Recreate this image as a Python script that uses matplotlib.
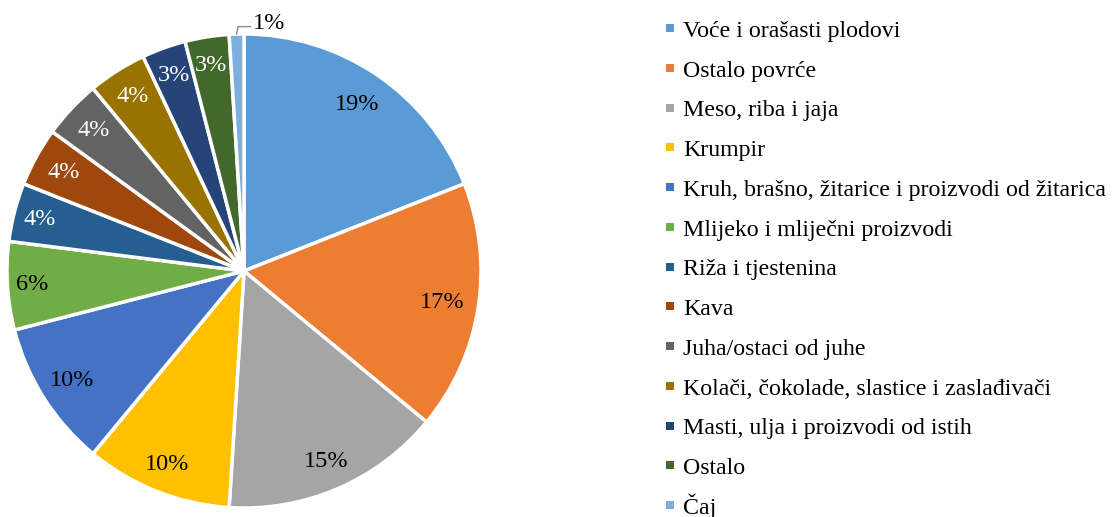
import numpy as np
import matplotlib
matplotlib.use('Agg')
import matplotlib.pyplot as plt

categories = ['Voće i orašasti plodovi', 'Ostalo povrće', 'Meso, riba i jaja', 'Krumpir',
              'Kruh, brašno, žitarice i proizvodi od žitarica', 'Mlijeko i mliječni proizvodi',
              'Riža i tjestenina', 'Kava', 'Juha/ostaci od juhe',
              'Kolači, čokolade, slastice i zaslađivači', 'Masti, ulja i proizvodi od istih',
              'Ostalo', 'Čaj']
shares = [19, 17, 15, 10, 10, 6, 4, 4, 4, 4, 3, 3, 1]
colors = ['#5B9BD5', '#ED7D31', '#A5A5A5', '#FFC000', '#4472C4', '#70AD47', '#255E91',
          '#9E480E', '#636363', '#997300', '#264478', '#43682B', '#7CAFDD']
label_colors = ['black'] * 6 + ['white'] * 6 + ['black']
# radial placement of the in-slice labels (fraction of radius)
label_radius = [0.85, 0.845, 0.873, 0.878, 0.86, 0.895, 0.89, 0.87, 0.87, 0.875, 0.877, 0.88]

plt.rcParams['font.family'] = ['Liberation Serif', 'DejaVu Serif']

fig = plt.figure(figsize=(11.15, 5.17), dpi=100)
ax = fig.add_axes([0, 0, 1, 1])

cx, cy, r = 244, 246, 237
wedges, texts = ax.pie(shares, colors=colors, startangle=90, counterclock=False,
                       center=(cx, cy), radius=r, frame=True,
                       wedgeprops=dict(edgecolor='white', linewidth=2.5))
ax.set_xlim(0, 1115)
ax.set_ylim(0, 517)
ax.set_aspect('equal')
ax.axis('off')

for w, val, col, lr in zip(wedges[:-1], shares[:-1], label_colors[:-1], label_radius):
    ang = np.deg2rad((w.theta1 + w.theta2) / 2)
    ax.text(cx + lr * r * np.cos(ang), cy + lr * r * np.sin(ang) + 2, f'{val}%',
            ha='center', va='center_baseline', fontsize=17.5, color=col)

# small slice label with leader line
w = wedges[-1]
ang = np.deg2rad((w.theta1 + w.theta2) / 2)
x0, y0 = cx + r * np.cos(ang), cy + r * np.sin(ang)
ax.plot([x0, x0 + 1.5, x0 + 14], [y0, y0 + 7.5, y0 + 7.5], color='#8c8c8c', lw=1)
ax.text(x0 + 16, y0 + 4.8, f'{shares[-1]}%', ha='left', va='baseline', fontsize=17.5)

# legend, one row per category
for i, (cat, col) in enumerate(zip(categories, colors)):
    ly = 517 - (28.3 + i * 39.73)
    ax.scatter([669.7], [ly], marker='s', s=26, color=col, linewidths=0)
    ax.text(683, ly - 8.7, cat, ha='left', va='baseline', fontsize=17.2)

fig.savefig('out.png', dpi=100)
